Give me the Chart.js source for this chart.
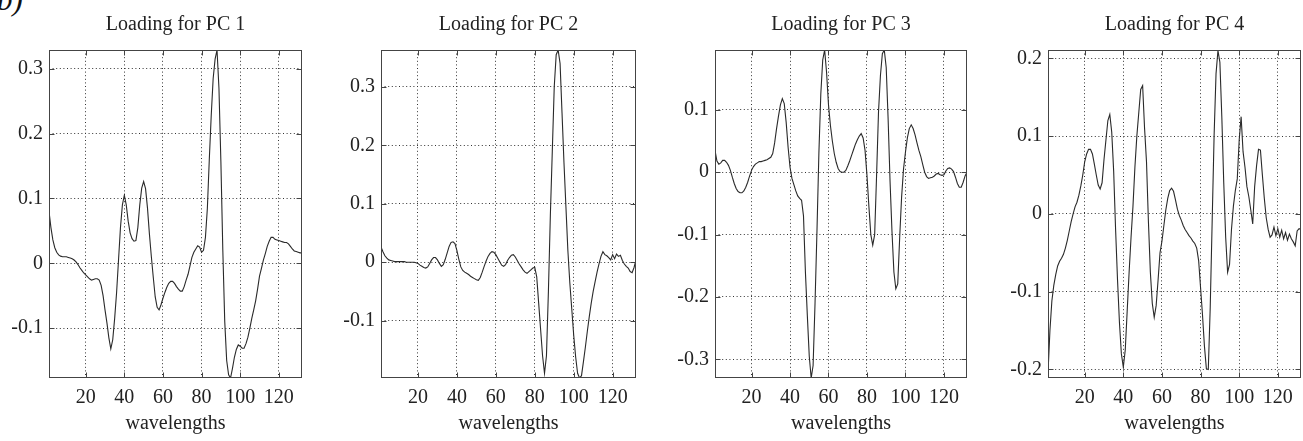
<!DOCTYPE html>
<html><head><meta charset="utf-8">
<script src="https://cdn.jsdelivr.net/npm/chart.js@4.4.1/dist/chart.umd.min.js"></script>
<style>
html,body{margin:0;padding:0;background:#fff;width:1303px;height:441px;overflow:hidden;position:relative}
canvas{position:absolute;top:0}
#lbl{position:absolute;left:-3px;top:-15px;font:italic 31px/30px "Liberation Serif",serif;color:#111}
</style></head><body>
<div id="lbl">b)</div>
<canvas id="c1" width="322" height="441" style="left:0px"></canvas>
<canvas id="c2" width="330" height="441" style="left:326px"></canvas>
<canvas id="c3" width="330" height="441" style="left:660px"></canvas>
<canvas id="c4" width="311" height="441" style="left:992px"></canvas>
<script>
const wavelengths = [1,2,3,4,5,6,7,8,9,10,11,12,13,14,15,16,17,18,19,20,21,22,23,24,25,26,27,28,29,30,31,32,33,34,35,36,37,38,39,40,41,42,43,44,45,46,47,48,49,50,51,52,53,54,55,56,57,58,59,60,61,62,63,64,65,66,67,68,69,70,71,72,73,74,75,76,77,78,79,80,81,82,83,84,85,86,87,88,89,90,91,92,93,94,95,96,97,98,99,100,101,102,103,104,105,106,107,108,109,110,111,112,113,114,115,116,117,118,119,120,121,122,123,124,125,126,127,128,129,130,131,132];

const xTicks = [20,40,60,80,100,120];
const xTickLabels = ['20','40','60','80','100','120'];

const pc1 = [0.080,0.055,0.036,0.024,0.017,0.013,0.011,0.010,0.010,0.010,0.009,0.008,0.007,0.005,0.002,-0.002,-0.007,-0.011,-0.015,-0.018,
-0.021,-0.024,-0.026,-0.025,-0.024,-0.024,-0.026,-0.034,-0.050,-0.072,-0.092,-0.115,-0.132,-0.118,-0.085,-0.045,0.005,0.055,0.090,0.105,
0.090,0.065,0.047,0.038,0.034,0.035,0.055,0.090,0.116,0.126,0.115,0.085,0.045,0.010,-0.022,-0.052,-0.068,-0.072,-0.064,-0.054,
-0.045,-0.037,-0.031,-0.028,-0.028,-0.031,-0.036,-0.040,-0.043,-0.043,-0.036,-0.026,-0.017,-0.004,0.009,0.017,0.022,0.027,0.025,0.017,
0.020,0.040,0.085,0.160,0.228,0.285,0.315,0.329,0.270,0.157,0.020,-0.090,-0.150,-0.172,-0.177,-0.162,-0.145,-0.133,-0.126,-0.128,
-0.131,-0.131,-0.124,-0.114,-0.100,-0.085,-0.072,-0.058,-0.040,-0.020,-0.008,0.005,0.015,0.026,0.034,0.040,0.040,0.037,0.036,0.035,
0.034,0.033,0.032,0.032,0.030,0.026,0.022,0.019,0.018,0.017,0.016,0.016];

const pc2 = [0.026,0.018,0.011,0.007,0.004,0.003,0.002,0.001,0.001,0.001,0.001,0.001,0.001,0.000,0.000,0.000,0.000,0.000,-0.001,-0.002,
-0.005,-0.007,-0.009,-0.010,-0.008,-0.002,0.004,0.008,0.008,0.004,-0.002,-0.007,-0.004,0.005,0.016,0.027,0.034,0.035,0.032,0.020,
0.005,-0.008,-0.014,-0.017,-0.019,-0.021,-0.024,-0.026,-0.028,-0.030,-0.031,-0.026,-0.017,-0.007,0.002,0.010,0.015,0.018,0.017,0.013,
0.007,0.001,-0.005,-0.007,-0.004,0.003,0.008,0.012,0.013,0.009,0.003,-0.003,-0.008,-0.013,-0.017,-0.019,-0.016,-0.013,-0.010,-0.009,
-0.025,-0.070,-0.115,-0.160,-0.190,-0.160,-0.050,0.080,0.190,0.300,0.355,0.363,0.340,0.255,0.170,0.095,0.020,-0.035,-0.080,-0.125,
-0.162,-0.190,-0.198,-0.194,-0.170,-0.145,-0.118,-0.093,-0.070,-0.050,-0.033,-0.017,-0.003,0.010,0.018,0.013,0.011,0.008,0.004,0.013,
0.006,0.014,0.010,0.012,0.003,-0.003,-0.007,-0.010,-0.016,-0.018,-0.009,0.004];

const pc3 = [0.035,0.018,0.013,0.015,0.019,0.019,0.016,0.011,0.003,-0.008,-0.018,-0.026,-0.031,-0.033,-0.033,-0.030,-0.024,-0.016,-0.006,0.003,
0.009,0.013,0.015,0.017,0.017,0.018,0.019,0.020,0.022,0.024,0.030,0.047,0.070,0.090,0.108,0.118,0.110,0.080,0.040,0.008,
-0.010,-0.020,-0.030,-0.038,-0.042,-0.045,-0.070,-0.160,-0.230,-0.295,-0.330,-0.310,-0.210,-0.095,0.030,0.125,0.180,0.196,0.160,0.108,
0.075,0.050,0.030,0.016,0.006,0.001,0.000,0.000,0.003,0.010,0.018,0.027,0.036,0.045,0.052,0.058,0.062,0.055,0.035,-0.005,
-0.055,-0.100,-0.117,-0.100,-0.005,0.097,0.155,0.190,0.196,0.168,0.085,-0.015,-0.095,-0.160,-0.187,-0.179,-0.105,-0.040,0.005,0.032,
0.055,0.070,0.076,0.070,0.060,0.047,0.035,0.025,0.012,0.000,-0.007,-0.010,-0.009,-0.008,-0.006,-0.003,-0.002,-0.004,-0.005,-0.004,
0.002,0.006,0.007,0.005,0.001,-0.008,-0.018,-0.024,-0.024,-0.016,-0.006,0.000];

const pc4 = [-0.205,-0.150,-0.112,-0.092,-0.078,-0.067,-0.061,-0.057,-0.052,-0.044,-0.034,-0.022,-0.010,0.000,0.009,0.015,0.024,0.036,0.050,0.067,
0.077,0.083,0.083,0.077,0.064,0.050,0.037,0.032,0.040,0.070,0.095,0.120,0.128,0.105,0.055,-0.020,-0.085,-0.140,-0.180,-0.197,
-0.175,-0.125,-0.075,-0.030,0.010,0.060,0.100,0.130,0.160,0.165,0.110,0.067,-0.010,-0.075,-0.115,-0.133,-0.118,-0.085,-0.050,-0.035,
-0.015,0.005,0.020,0.030,0.033,0.029,0.018,0.006,-0.002,-0.008,-0.015,-0.020,-0.024,-0.028,-0.031,-0.035,-0.038,-0.044,-0.060,-0.095,
-0.130,-0.170,-0.199,-0.200,-0.120,-0.010,0.100,0.180,0.210,0.195,0.125,0.040,-0.030,-0.075,-0.065,-0.020,0.010,0.030,0.045,0.095,
0.125,0.080,0.060,0.035,0.022,0.005,-0.013,0.035,0.062,0.083,0.082,0.050,0.020,-0.005,-0.020,-0.030,-0.027,-0.017,-0.028,-0.019,
-0.030,-0.021,-0.032,-0.024,-0.034,-0.026,-0.032,-0.036,-0.041,-0.022,-0.019,-0.020];

const yTicks1 = [-0.1,0,0.1,0.2,0.3];   const yTickLabels1 = ['-0.1','0','0.1','0.2','0.3'];
const yTicks2 = [-0.1,0,0.1,0.2,0.3];   const yTickLabels2 = ['-0.1','0','0.1','0.2','0.3'];
const yTicks3 = [-0.3,-0.2,-0.1,0,0.1]; const yTickLabels3 = ['-0.3','-0.2','-0.1','0','0.1'];
const yTicks4 = [-0.2,-0.1,0,0.1,0.2];  const yTickLabels4 = ['-0.2','-0.1','0','0.1','0.2'];

const titles = ['Loading for PC 1','Loading for PC 2','Loading for PC 3','Loading for PC 4'];
const xTitle = 'wavelengths';

// layout / style settings (not data)
const panels = [
  {id:'c1', series:pc1, yt:yTicks1, yl:yTickLabels1, ymin:-0.177, ymax:0.329, yw:49, pr:20},
  {id:'c2', series:pc2, yt:yTicks2, yl:yTickLabels2, ymin:-0.198, ymax:0.363, yw:55, pr:20},
  {id:'c3', series:pc3, yt:yTicks3, yl:yTickLabels3, ymin:-0.330, ymax:0.196, yw:55, pr:23},
  {id:'c4', series:pc4, yt:yTicks4, yl:yTickLabels4, ymin:-0.211, ymax:0.2107, yw:56, pr:2}
];
const FONT = '"Liberation Serif", "Times New Roman", serif';
const TXT = '#222';

const framePlugin = {
  id:'frame',
  afterDraw(chart){
    const {ctx, chartArea:a, scales} = chart;
    ctx.save();
    ctx.strokeStyle = '#444';
    ctx.lineWidth = 1;
    const L = Math.round(a.left)+0.5, R = Math.round(a.right)-0.5, T = Math.round(a.top)+0.5, B = Math.round(a.bottom)-0.5;
    ctx.strokeRect(L, T, R-L, B-T);
    ctx.beginPath();
    scales.x.ticks.forEach(t=>{
      const px = Math.round(scales.x.getPixelForValue(t.value))+0.5;
      ctx.moveTo(px,B); ctx.lineTo(px,B-5);
      ctx.moveTo(px,T); ctx.lineTo(px,T+5);
    });
    scales.y.ticks.forEach(t=>{
      const py = Math.round(scales.y.getPixelForValue(t.value))+0.5;
      ctx.moveTo(L,py); ctx.lineTo(L+5,py);
      ctx.moveTo(R,py); ctx.lineTo(R-5,py);
    });
    ctx.stroke();
    ctx.restore();
  }
};

panels.forEach((p,i)=>{
  const pts = wavelengths.map((w,k)=>({x:w, y:p.series[k]}));
  new Chart(document.getElementById(p.id), {
    type:'line',
    data:{datasets:[{data:pts, borderColor:'#2a2a2a', borderWidth:1.1, pointRadius:0, tension:0, fill:false}]},
    options:{
      responsive:false, animation:false, devicePixelRatio:1,
      layout:{padding:{left:0, right:p.pr, top:0, bottom:0}},
      plugins:{
        legend:{display:false}, tooltip:{enabled:false},
        title:{display:true, text:titles[i], fullSize:false, color:TXT,
               font:{family:FONT, size:20, weight:'normal', lineHeight:1.2},
               padding:{top:13, bottom:13}}
      },
      scales:{
        x:{type:'linear', min:1, max:132,
           afterBuildTicks:(s)=>{ s.ticks = xTicks.map(v=>({value:v})); },
           afterFit:(s)=>{ s.height = 63; },
           ticks:{autoSkip:false, maxRotation:0, padding:8, color:TXT,
                  font:{family:FONT, size:20, lineHeight:1.2},
                  callback:(v,idx)=>xTickLabels[idx]},
           grid:{color:'#333', lineWidth:1, drawTicks:false},
           border:{display:false, dash:[1,2.6]},
           title:{display:true, text:xTitle, color:TXT, font:{family:FONT, size:20, lineHeight:1.2}, padding:{top:0, bottom:5}}
        },
        y:{type:'linear', min:p.ymin, max:p.ymax,
           afterBuildTicks:(s)=>{ s.ticks = p.yt.map(v=>({value:v})); },
           afterFit:(s)=>{ s.width = p.yw; },
           ticks:{autoSkip:false, padding:6, color:TXT,
                  font:{family:FONT, size:20, lineHeight:1.2},
                  callback:(v,idx)=>p.yl[idx]},
           grid:{color:'#333', lineWidth:1, drawTicks:false},
           border:{display:false, dash:[1,2.6]}
        }
      }
    },
    plugins:[framePlugin]
  });
});
</script>
</body></html>
